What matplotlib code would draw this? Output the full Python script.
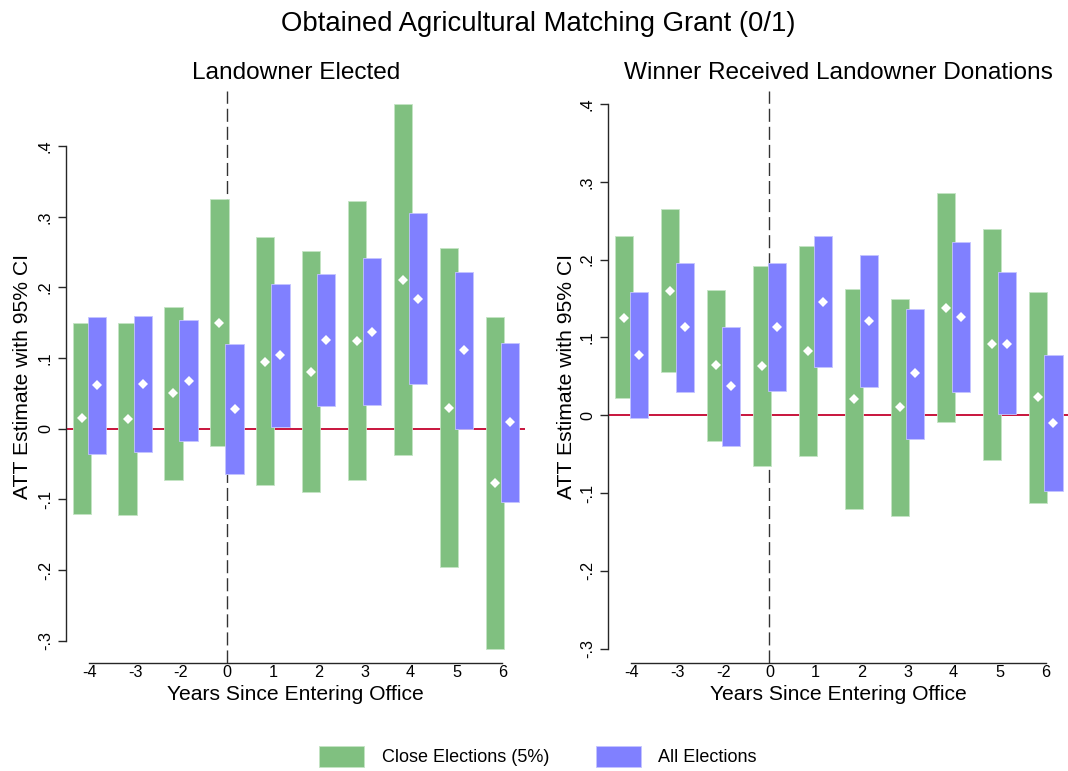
import numpy as np
import matplotlib
matplotlib.use("Agg")
import matplotlib.pyplot as plt
from matplotlib.patches import Patch

plt.rcParams['font.family'] = ['Liberation Sans', 'DejaVu Sans']

# event time (year -1 is the omitted reference period)
years = ['-4', '-3', '-2', '0', '1', '2', '3', '4', '5', '6']
yticks = [-0.3, -0.2, -0.1, 0, 0.1, 0.2, 0.3, 0.4]
ytick_labels = ['-.3', '-.2', '-.1', '0', '.1', '.2', '.3', '.4']

# Landowner Elected
le_close_est = [0.015, 0.014, 0.050, 0.150, 0.095, 0.081, 0.124, 0.211, 0.030, -0.077]
le_close_lo = [-0.121, -0.122, -0.073, -0.025, -0.080, -0.090, -0.073, -0.037, -0.196, -0.311]
le_close_hi = [0.150, 0.150, 0.172, 0.325, 0.271, 0.252, 0.322, 0.459, 0.256, 0.158]
le_all_est = [0.062, 0.063, 0.068, 0.028, 0.104, 0.125, 0.137, 0.184, 0.111, 0.010]
le_all_lo = [-0.035, -0.033, -0.018, -0.064, 0.003, 0.032, 0.033, 0.063, 0.000, -0.103]
le_all_hi = [0.158, 0.159, 0.154, 0.120, 0.205, 0.219, 0.242, 0.306, 0.222, 0.122]

# Winner Received Landowner Donations
wd_close_est = [0.125, 0.160, 0.064, 0.063, 0.082, 0.021, 0.010, 0.138, 0.091, 0.024]
wd_close_lo = [0.022, 0.056, -0.033, -0.065, -0.052, -0.120, -0.129, -0.009, -0.057, -0.113]
wd_close_hi = [0.230, 0.265, 0.161, 0.192, 0.217, 0.162, 0.149, 0.285, 0.239, 0.159]
wd_all_est = [0.078, 0.113, 0.037, 0.113, 0.146, 0.121, 0.054, 0.126, 0.092, -0.010]
wd_all_lo = [-0.003, 0.030, -0.040, 0.031, 0.062, 0.036, -0.030, 0.030, 0.001, -0.097]
wd_all_hi = [0.159, 0.195, 0.114, 0.195, 0.230, 0.206, 0.137, 0.223, 0.184, 0.078]

green = '#80C080'
blue = '#8080FF'
green_edge = '#C4E4C4'
blue_edge = '#C4C4FF'
zero_red = '#C8143C'
axis_col = '#262626'


def draw_panel(ax, title, close, allel, ylim, ylab_x):
    x = np.arange(len(years))
    off, w = 0.165, 0.40

    ax.axhline(0, color=zero_red, lw=1.4, zorder=1)
    ax.axvline(years.index('0'), color='#333333', lw=1.0,
               ls=(0, (9.4, 3.6)), zorder=1)

    c_est, c_lo, c_hi = [np.array(v) for v in close]
    a_est, a_lo, a_hi = [np.array(v) for v in allel]
    ax.bar(x - off, c_hi - c_lo, bottom=c_lo, width=w, color=green,
           edgecolor=green_edge, linewidth=0.6, zorder=2)
    ax.bar(x + off, a_hi - a_lo, bottom=a_lo, width=w, color=blue,
           edgecolor=blue_edge, linewidth=0.6, zorder=2)
    ax.plot(x - off, c_est, 'D', color='white', ms=4.6, mew=0, zorder=3)
    ax.plot(x + off, a_est, 'D', color='white', ms=4.6, mew=0, zorder=3)

    ax.set_xlim(-0.5, 9.5)
    ax.set_ylim(*ylim)
    ax.set_xticks(x)
    ax.set_xticklabels(years)
    ax.set_yticks(yticks)
    ax.set_yticklabels(ytick_labels, rotation=90, va='center')

    for s in ['top', 'right']:
        ax.spines[s].set_visible(False)
    ax.spines['left'].set_bounds(-0.3, 0.4)
    ax.spines['bottom'].set_bounds(0, 9)
    for s in ['left', 'bottom']:
        ax.spines[s].set_color(axis_col)
        ax.spines[s].set_linewidth(1.0)

    ax.tick_params(axis='x', length=0, pad=1.5, labelsize=11.7, colors='black')
    ax.tick_params(axis='y', length=6.1, width=1.0, pad=3.5, labelsize=11.7,
                   color=axis_col, labelcolor='black')

    ax.set_title(title, fontsize=17.6, pad=8.6)
    ax.set_xlabel('Years Since Entering Office', fontsize=15.2)
    ax.xaxis.label.set_va('baseline')
    ax.xaxis.set_label_coords(0.5, -0.0652)
    ax.set_ylabel('ATT Estimate with 95% CI', fontsize=15.2)
    ax.yaxis.set_label_coords(ylab_x, 0.5)


fig = plt.figure(figsize=(10.68, 7.71), dpi=100)
ax1 = fig.add_axes([0.0621, 0.1405, 0.4297, 0.7415])
ax2 = fig.add_axes([0.5696, 0.1405, 0.4311, 0.7415])

draw_panel(ax1, 'Landowner Elected',
           (le_close_est, le_close_lo, le_close_hi),
           (le_all_est, le_all_lo, le_all_hi),
           (-0.331, 0.478), -0.0747)
draw_panel(ax2, 'Winner Received Landowner Donations',
           (wd_close_est, wd_close_lo, wd_close_hi),
           (wd_all_est, wd_all_lo, wd_all_hi),
           (-0.318, 0.4167), -0.0712)

fig.text(0.504, 0.9602, 'Obtained Agricultural Matching Grant (0/1)',
         fontsize=19.8, ha='center', va='baseline')

handles = [Patch(facecolor=green, edgecolor=green_edge, linewidth=0.6),
           Patch(facecolor=blue, edgecolor=blue_edge, linewidth=0.6)]
fig.legend(handles, ['Close Elections (5%)', 'All Elections'],
           loc='center', bbox_to_anchor=(537.8 / 1068, 1 - 756.3 / 771),
           ncol=2, frameon=False, fontsize=13,
           handlelength=2.5, handleheight=1.37, handletextpad=0.96,
           columnspacing=2.58)

fig.savefig('out.png', dpi=100)
